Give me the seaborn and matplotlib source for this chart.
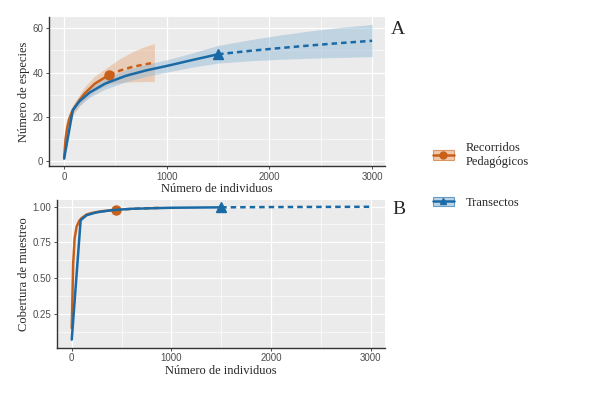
import numpy as np
import pandas as pd
import matplotlib
matplotlib.use("Agg")
import matplotlib.pyplot as plt
import seaborn as sns
from matplotlib.lines import Line2D
from matplotlib.patches import Patch
from matplotlib.legend_handler import HandlerTuple
from matplotlib.ticker import MultipleLocator

# Curvas de rarefaccion / extrapolacion (A) y cobertura (B)
series = ["Recorridos\nPedagógicos", "Transectos"]
col_line = ["#C8601A", "#1A6AA6"]
col_fill = ["#E8A878", "#8DB6D6"]

# Recorridos Pedagogicos - riqueza
rp_n_int = [1, 15, 30, 50, 75, 100, 150, 200, 300, 440]
rp_s_int = [1.5, 10, 15, 19, 22, 24, 27.5, 30.5, 35, 39]
rp_n_ext = [440, 550, 660, 770, 880]
rp_s_ext = [39, 41, 42.5, 43.6, 44.5]
rp_n_ci = [1, 15, 30, 50, 75, 100, 150, 200, 300, 440, 550, 660, 770, 880]
rp_lo = [0.5, 8, 12.5, 16.5, 19.5, 21.5, 25, 27.5, 31.5, 35, 35.5, 35.8, 35.9, 36]
rp_hi = [2.5, 12, 17.5, 21.5, 24.5, 26.5, 30, 33.5, 38.5, 43, 46.5, 49.3, 51.5, 53.2]

# Transectos - riqueza
tr_n_int = [1, 85, 150, 250, 400, 600, 800, 1000, 1250, 1500]
tr_s_int = [1, 23, 27, 31, 35, 38.5, 41, 43, 45.7, 48.3]
tr_n_ext = [1500, 1800, 2100, 2400, 2700, 3000]
tr_s_ext = [48.3, 49.8, 51.1, 52.3, 53.4, 54.4]
tr_n_ci = [1, 85, 150, 250, 400, 600, 800, 1000, 1250, 1500, 1800, 2100, 2400, 2700, 3000]
tr_lo = [0.5, 21.5, 25, 28.8, 32.5, 35.8, 38.3, 40.2, 42.5, 44.3, 45.3, 46, 46.5, 46.9, 47.2]
tr_hi = [1.5, 24.5, 29, 33.2, 37.5, 41.2, 43.7, 45.8, 48.9, 52.3, 54.8, 57, 58.9, 60.5, 61.8]

# Cobertura de muestreo
rp_c_int = [0.15, 0.6, 0.78, 0.86, 0.9, 0.92, 0.945, 0.955, 0.968, 0.976]
rp_c_ext = [0.976, 0.982, 0.986, 0.989, 0.991]
tr_cn_int = [1, 90, 150, 250, 400, 600, 1000, 1500]
tr_c_int = [0.07, 0.905, 0.94, 0.96, 0.975, 0.985, 0.992, 0.995]
tr_cn_ext = [1500, 2000, 2500, 3000]
tr_c_ext = [0.995, 0.997, 0.998, 0.999]

sns.set_theme(style="darkgrid", rc={
    "axes.facecolor": "#EBEBEB",
    "grid.color": "white",
    "axes.edgecolor": "#333333",
})

fig = plt.figure(figsize=(6.13, 3.99), dpi=100)
axA = fig.add_axes([0.080, 0.584, 0.548, 0.373])
axB = fig.add_axes([0.093, 0.128, 0.535, 0.371])

serif = "Liberation Serif"
sans = "Liberation Sans"


def style_axis(ax, xlabel, ylabel):
    ax.xaxis.set_minor_locator(MultipleLocator(500))
    ax.grid(which="major", color="white", linewidth=0.9)
    ax.grid(which="minor", color="white", linewidth=0.45)
    for s in ["top", "right"]:
        ax.spines[s].set_visible(False)
    for s in ["left", "bottom"]:
        ax.spines[s].set_visible(True)
        ax.spines[s].set_color("#333333")
        ax.spines[s].set_linewidth(1.0)
    ax.tick_params(which="major", length=2.5, width=0.6, color="#333333",
                   labelsize=7, labelcolor="#4D4D4D", pad=1.5, bottom=True, left=True)
    ax.tick_params(which="minor", length=0)
    for lab in ax.get_xticklabels() + ax.get_yticklabels():
        lab.set_family(sans)
    ax.set_xlabel(xlabel, family=serif, fontsize=9, labelpad=1)
    ax.set_ylabel(ylabel, family=serif, fontsize=9, labelpad=2)


# Panel A
for n_ci, lo, hi, k in [(rp_n_ci, rp_lo, rp_hi, 0), (tr_n_ci, tr_lo, tr_hi, 1)]:
    axA.fill_between(n_ci, lo, hi, color=col_fill[k], alpha=0.45, linewidth=0)

parts = [
    (rp_n_int, rp_s_int, rp_n_ext, rp_s_ext, 0, "o"),
    (tr_n_int, tr_s_int, tr_n_ext, tr_s_ext, 1, "^"),
]
for ni, si, ne, se, k, mk in parts:
    sns.lineplot(x=ni, y=si, ax=axA, color=col_line[k], linewidth=1.8, legend=False)
    sns.lineplot(x=ne, y=se, ax=axA, color=col_line[k], linewidth=1.8,
                 linestyle=(0, (2.2, 1.6)), legend=False)
    axA.plot(ni[-1], si[-1], marker=mk, markersize=6.5, color=col_line[k], linestyle="none")

axA.set_xlim(-146, 3125)
axA.set_ylim(-2.3, 65.1)
axA.set_xticks([0, 1000, 2000, 3000])
axA.set_yticks([0, 20, 40, 60])
axA.yaxis.set_minor_locator(MultipleLocator(10))
style_axis(axA, "Número de individuos", "Número de especies")

# Panel B
partsB = [
    (rp_n_int, rp_c_int, rp_n_ext, rp_c_ext, 0, "o"),
    (tr_cn_int, tr_c_int, tr_cn_ext, tr_c_ext, 1, "^"),
]
for ni, ci, ne, ce, k, mk in partsB:
    sns.lineplot(x=ni, y=ci, ax=axB, color=col_line[k], linewidth=1.8, legend=False)
    sns.lineplot(x=ne, y=ce, ax=axB, color=col_line[k], linewidth=1.8,
                 linestyle=(0, (2.2, 1.6)), legend=False)
    axB.plot(ni[-1], ci[-1], marker=mk, markersize=6.5, color=col_line[k], linestyle="none")

axB.set_xlim(-147, 3143)
axB.set_ylim(0.012, 1.047)
axB.set_xticks([0, 1000, 2000, 3000])
axB.set_yticks([0.25, 0.5, 0.75, 1.0])
axB.set_yticklabels(["0.25", "0.50", "0.75", "1.00"])
axB.yaxis.set_minor_locator(MultipleLocator(0.125))
style_axis(axB, "Número de individuos", "Cobertura de muestreo")

fig.text(0.638, 0.926, "A", family=serif, fontsize=14, va="center")
fig.text(0.640, 0.474, "B", family=serif, fontsize=14, va="center")

# Leyenda
handles = []
for k, mk in enumerate(["o", "^"]):
    box = Patch(facecolor=col_fill[k], edgecolor=col_line[k], alpha=0.6, linewidth=0.8)
    ln = Line2D([], [], color=col_line[k], linewidth=1.8, marker=mk, markersize=5)
    handles.append((box, ln))
fig.legend(handles, series, handler_map={tuple: HandlerTuple(ndivide=1, pad=0)},
           loc="center left", bbox_to_anchor=(0.706, 0.56), frameon=False,
           borderpad=0, borderaxespad=0,
           prop={"family": serif, "size": 9}, labelspacing=2.3,
           handlelength=1.7, handleheight=0.8, handletextpad=0.9)

fig.savefig("out.png", dpi=100)
